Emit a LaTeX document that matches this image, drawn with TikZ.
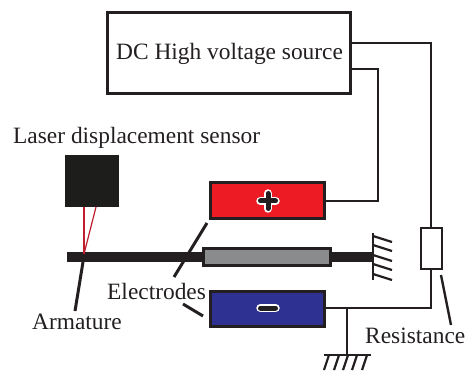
\documentclass[tikz,border=0pt]{standalone}
\usepackage{fontspec}
\setmainfont{Liberation Serif}
\usepackage{pgf, tikz}
\definecolor{ink}{HTML}{231F20}
\definecolor{sensorblack}{HTML}{1D1D1B}
\definecolor{electrodered}{HTML}{ED1C24}
\definecolor{electrodeblue}{HTML}{2E3192}
\definecolor{sleevegray}{HTML}{898B8D}
\definecolor{beamred}{HTML}{BE1E2D}
\pgfdeclarelayer{edgelayer}
\pgfdeclarelayer{nodelayer}
\pgfsetlayers{edgelayer,nodelayer,main}
\tikzstyle{none}=[inner sep=0pt]
\tikzstyle{caption}=[inner sep=0pt, anchor=base west, text=ink, font=\fontsize{23.4}{27}\selectfont]
\tikzstyle{wire}=[draw=ink, line width=2.5pt]
\tikzstyle{leader}=[draw=ink, line width=3pt]
\tikzstyle{hatch}=[draw=ink, line width=2.2pt]
\tikzstyle{beam}=[draw=beamred, line width=1.2pt]
\tikzstyle{block}=[rectangle, draw=ink, inner sep=0pt, outer sep=0pt, line width=3pt]
\tikzstyle{signwhite}=[draw=white, line width=8.5pt, line cap=round]
\tikzstyle{signblack}=[draw=ink, line width=5pt, line cap=round]

\begin{document}
\begin{tikzpicture}[x=1pt, y=-1pt]
			\useasboundingbox (0, 0) rectangle (465, 371);
			\begin{pgfonlayer}{nodelayer}
			\node [style=block, fill=white, minimum width=243pt, minimum height=81pt] (0) at (228.5, 53.5) {};
			\node [style=block, fill=electrodered, minimum width=114pt, minimum height=35pt] (1) at (267, 200.5) {};
			\node [style=block, fill=electrodeblue, minimum width=114pt, minimum height=35pt] (2) at (267, 308.5) {};
			\node [style=block, fill=sleevegray, minimum width=127pt, minimum height=17pt] (3) at (266.5, 257) {};
			\node [style=block, fill=white, line width=2.6pt, minimum width=21pt, minimum height=41pt] (4) at (431.5, 248.5) {};
			\node [rectangle, fill=sensorblack, inner sep=0pt, minimum width=54pt, minimum height=52pt] (5) at (92, 181) {};
			\node [style=caption] (6) at (116, 60) {DC High voltage source};
			\node [style=caption] (7) at (13, 144) {Laser displacement sensor};
			\node [style=caption] (8) at (107, 299) {Electrodes};
			\node [style=caption] (9) at (32, 329) {Armature};
			\node [style=caption] (10) at (365, 343) {Resistance};
			\node [style=none] (11) at (350, 43) {};
			\node [style=none] (12) at (431, 43) {};
			\node [style=none] (13) at (431, 228) {};
			\node [style=none] (14) at (350, 69) {};
			\node [style=none] (15) at (378, 69) {};
			\node [style=none] (16) at (378, 201) {};
			\node [style=none] (17) at (324, 201) {};
			\node [style=none] (18) at (324, 308) {};
			\node [style=none] (19) at (431, 308) {};
			\node [style=none] (20) at (431, 269) {};
			\node [style=none] (21) at (347, 308) {};
			\node [style=none] (22) at (347, 355) {};
			\node [style=none] (23) at (324, 355) {};
			\node [style=none] (24) at (371, 355) {};
			\node [style=none] (25) at (329, 355) {};
			\node [style=none] (26) at (324, 370) {};
			\node [style=none] (27) at (339, 355) {};
			\node [style=none] (28) at (334, 370) {};
			\node [style=none] (29) at (348, 355) {};
			\node [style=none] (30) at (343, 370) {};
			\node [style=none] (31) at (357, 355) {};
			\node [style=none] (32) at (352, 370) {};
			\node [style=none] (33) at (367, 355) {};
			\node [style=none] (34) at (362, 370) {};
			\node [style=none] (35) at (67, 257) {};
			\node [style=none] (36) at (373, 257) {};
			\node [style=none] (37) at (373, 233) {};
			\node [style=none] (38) at (373, 280) {};
			\node [style=none] (39) at (373, 236) {};
			\node [style=none] (40) at (392, 242) {};
			\node [style=none] (41) at (373, 245) {};
			\node [style=none] (42) at (392, 251) {};
			\node [style=none] (43) at (373, 255) {};
			\node [style=none] (44) at (392, 261) {};
			\node [style=none] (45) at (373, 264) {};
			\node [style=none] (46) at (392, 270) {};
			\node [style=none] (47) at (373, 274) {};
			\node [style=none] (48) at (392, 280) {};
			\node [style=none] (49) at (84, 207) {};
			\node [style=none] (50) at (96, 207) {};
			\node [style=none] (51) at (84, 254) {};
			\node [style=none] (52) at (83, 262) {};
			\node [style=none] (53) at (75, 311) {};
			\node [style=none] (54) at (207, 223) {};
			\node [style=none] (55) at (174, 277) {};
			\node [style=none] (56) at (183, 304) {};
			\node [style=none] (57) at (203, 316) {};
			\node [style=none] (58) at (441, 275) {};
			\node [style=none] (59) at (451, 325) {};
			\node [style=none] (60) at (260.5, 201) {};
			\node [style=none] (61) at (275.5, 201) {};
			\node [style=none] (62) at (268, 193.5) {};
			\node [style=none] (63) at (268, 208.5) {};
			\node [style=none] (64) at (260.5, 308) {};
			\node [style=none] (65) at (275.5, 308) {};
			\end{pgfonlayer}
			\begin{pgfonlayer}{edgelayer}
			\draw [style=wire] (11.center) to (12.center) to (13.center);
			\draw [style=wire] (14.center) to (15.center) to (16.center) to (17.center);
			\draw [style=wire] (18.center) to (19.center) to (20.center);
			\draw [style=wire] (21.center) to (22.center);
			\draw [style=wire] (23.center) to (24.center);
			\draw [style=hatch] (25.center) to (26.center);
			\draw [style=hatch] (27.center) to (28.center);
			\draw [style=hatch] (29.center) to (30.center);
			\draw [style=hatch] (31.center) to (32.center);
			\draw [style=hatch] (33.center) to (34.center);
			\draw [draw=ink, line width=10pt] (35.center) to (36.center);
			\draw [style=wire] (37.center) to (38.center);
			\draw [style=hatch] (39.center) to (40.center);
			\draw [style=hatch] (41.center) to (42.center);
			\draw [style=hatch] (43.center) to (44.center);
			\draw [style=hatch] (45.center) to (46.center);
			\draw [style=hatch] (47.center) to (48.center);
			\draw [style=leader] (52.center) to (53.center);
			\draw [style=leader] (54.center) to (55.center);
			\draw [style=leader] (56.center) to (57.center);
			\draw [style=leader, line width=2.4pt] (58.center) to (59.center);
			\end{pgfonlayer}
			\draw [style=beam] (49.center) to (51.center);
			\draw [style=beam] (50.center) to (51.center);
			\draw [style=signwhite] (60.center) to (61.center);
			\draw [style=signwhite] (62.center) to (63.center);
			\draw [style=signblack] (60.center) to (61.center);
			\draw [style=signblack] (62.center) to (63.center);
			\draw [style=signwhite] (64.center) to (65.center);
			\draw [style=signblack] (64.center) to (65.center);
\end{tikzpicture}
\end{document}
